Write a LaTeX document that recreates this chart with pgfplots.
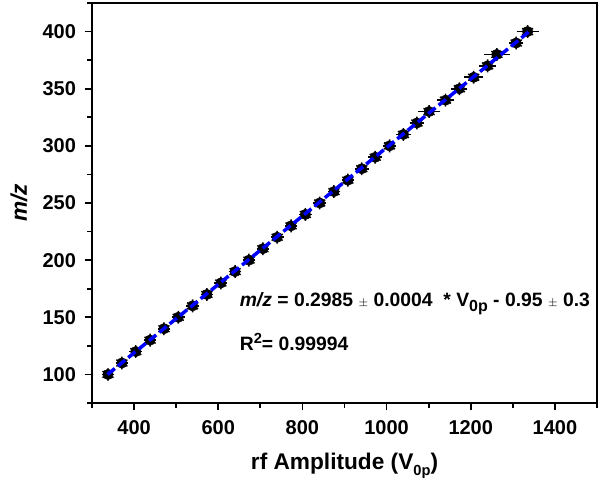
\documentclass[border=0pt]{standalone}
\usepackage{fontspec}
\setmainfont{Liberation Sans}
\usepackage{pgfplots}
\usepackage{pgfplotstable}
\pgfplotsset{compat=1.18}

% rf amplitude (V_0p) vs m/z, with x errors
\pgfplotstableread{
x     y    ex
338   100  4
371   110  4
404   120  4
438   130  4
471   140  4
505   150  4
539   160  4
573   170  4
606   180  4
640   190  4
673   200  4
706   210  4
740   220  4
773   230  4
807   240  4
841   250  4
875   260  4
908   270  4
941   280  6
973   290  6
1007  300  5
1040  310  6
1072  320  6
1101  330  15
1140  340  8
1173  350  8
1207  360  12
1240  370  9
1262  380  20
1308  390  6
1335  400  15
}\mzdata

\begin{document}
\begin{tikzpicture}
\begin{axis}[
    set layers,
    scale only axis,
    width=378.75pt, height=300pt,
    xmin=300, xmax=1500,
    ymin=75, ymax=425,
    xtick={400,600,...,1400},
    minor xtick={300,500,...,1500},
    ytick={100,150,...,400},
    minor ytick={75,125,...,425},
    tick align=outside,
    xtick pos=bottom, ytick pos=left,
    major tick length=5.5pt,
    minor tick length=3.5pt,
    every tick/.style={black, line width=1.3pt},
    axis line style={line width=1.5pt},
    ticklabel style={font=\fontsize{15}{18}\selectfont\bfseries},
    yticklabel style={xshift=-3pt},
    xticklabel style={yshift=-4pt},
    /pgf/number format/assume math mode=true,
    /pgf/number format/1000 sep={},
    label style={font=\fontsize{17}{20}\selectfont\bfseries},
    xlabel={rf Amplitude (V\raisebox{-0.45ex}{\fontsize{11}{13}\selectfont 0p})},
    ylabel={\itshape m/z},
    xlabel style={at={(axis description cs:0.5,0)}, anchor=center, yshift=-47pt},
    ylabel style={at={(axis description cs:-0.145,0.5)}, anchor=center},
    clip=false
]
\addplot[only marks, black, mark=*, mark size=3.9pt,
    error bars/.cd, x dir=both, x explicit,
    error bar style={line width=1.3pt},
    error mark options={line width=1.3pt, mark size=3.5pt}]
    table[x=x, y=y, x error=ex] {\mzdata};
\addplot[only marks, black, mark=asterisk, mark size=4.8pt, line width=1.1pt]
    table[x=x, y=y] {\mzdata};
% linear fit, drawn over the markers
\addplot[on layer=axis foreground, blue, line width=2.6pt, dash pattern=on 7pt off 3pt]
    coordinates {(337,100) (1339,400)};

\node[anchor=base west, font=\fontsize{14.5}{17}\selectfont\bfseries]
    at (axis cs:640,159)
    {\textit{m/z} = 0.2985 {\mdseries\small$\pm$} 0.0004 \ * V\raisebox{-0.45ex}{\fontsize{12}{14}\selectfont 0p} - 0.95 {\mdseries\small$\pm$} 0.3};
\node[anchor=base west, font=\fontsize{14.5}{17}\selectfont\bfseries]
    at (axis cs:640,120.5)
    {R\raisebox{0.7ex}{\fontsize{11}{13}\selectfont 2}= 0.99994};
\end{axis}
\pgfresetboundingbox
\path ([shift={(-69pt,-64.5pt)}]current axis.south west)
    rectangle ([shift={(2.25pt,2.25pt)}]current axis.north east);
\end{tikzpicture}
\end{document}
